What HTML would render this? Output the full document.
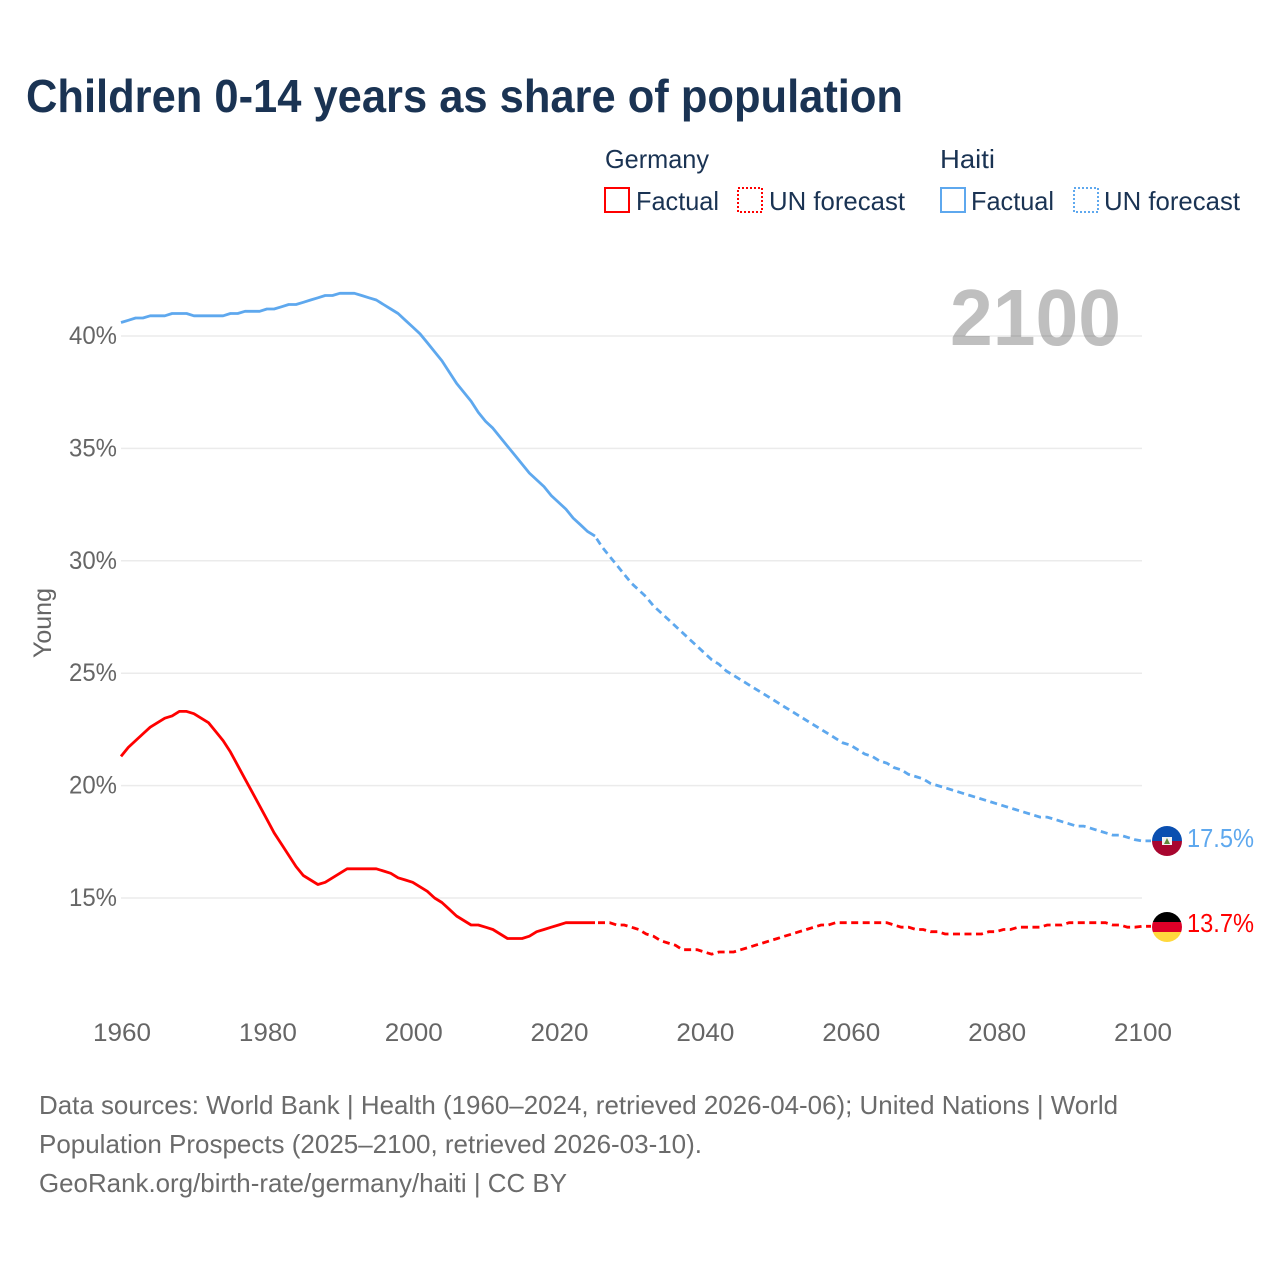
<!DOCTYPE html>
<html lang="en">
<head>
<meta charset="utf-8">
<title>Children 0-14 years as share of population</title>
<style>
html,body{margin:0;padding:0;background:#fff;width:1280px;height:1280px;overflow:hidden}
svg{display:block;font-family:"Liberation Sans",sans-serif}
</style>
</head>
<body>
<svg id="chart" xmlns="http://www.w3.org/2000/svg" width="1280" height="1280" viewBox="0 0 1280 1280">
  <defs>
    <clipPath id="clip-haiti"><circle cx="1167" cy="841" r="15"/></clipPath>
    <clipPath id="clip-germany"><circle cx="1167" cy="927" r="15"/></clipPath>
  </defs>
  <text x="26" y="112" font-size="46" font-weight="700" fill="#1a3353" textLength="877" lengthAdjust="spacingAndGlyphs">Children 0-14 years as share of population</text>

  <g font-size="26" fill="#1a3353">
    <text x="605" y="168" textLength="104" lengthAdjust="spacingAndGlyphs">Germany</text>
    <text x="940" y="168" textLength="55" lengthAdjust="spacingAndGlyphs">Haiti</text>
    <rect x="605" y="188" width="24" height="24" fill="none" stroke="#ff0000" stroke-width="2"/>
    <text x="636" y="210" textLength="83" lengthAdjust="spacingAndGlyphs">Factual</text>
    <rect x="738" y="188" width="24" height="24" fill="none" stroke="#ff0000" stroke-width="2" stroke-dasharray="2 2"/>
    <text x="769" y="210" textLength="136" lengthAdjust="spacingAndGlyphs">UN forecast</text>
    <rect x="941" y="188" width="24" height="24" fill="none" stroke="#5ea8ee" stroke-width="2"/>
    <text x="971" y="210" textLength="83" lengthAdjust="spacingAndGlyphs">Factual</text>
    <rect x="1074" y="188" width="24" height="24" fill="none" stroke="#5ea8ee" stroke-width="2" stroke-dasharray="2 2"/>
    <text x="1104" y="210" textLength="136" lengthAdjust="spacingAndGlyphs">UN forecast</text>
  </g>

  <g id="grid"></g>
  <g id="yticks"></g>
  <g id="xticks"></g>
  <text transform="translate(51,623) rotate(-90)" text-anchor="middle" font-size="25" fill="#666666" textLength="70" lengthAdjust="spacingAndGlyphs">Young</text>
  <text x="950" y="345" font-size="80" font-weight="700" fill="#000000" fill-opacity="0.25" textLength="171" lengthAdjust="spacingAndGlyphs">2100</text>
  <g id="series"></g>

  <g clip-path="url(#clip-haiti)">
    <rect x="1152" y="826" width="30" height="15" fill="#0a4fb0"/>
    <rect x="1152" y="841" width="30" height="15" fill="#a8062f"/>
    <rect x="1162" y="837" width="10" height="8" fill="#f2f2f2"/>
    <path d="M1167 838 L1170 844 L1164 844 Z" fill="#5e8a3a"/>
  </g>
  <g clip-path="url(#clip-germany)">
    <rect x="1152" y="912" width="30" height="10" fill="#000000"/>
    <rect x="1152" y="922" width="30" height="10.5" fill="#dd0028"/>
    <rect x="1152" y="932" width="30" height="10" fill="#ffd83d"/>
  </g>
  <text id="label-haiti" x="1187" y="847" font-size="25.5" fill="#5ea8ee" textLength="67" lengthAdjust="spacingAndGlyphs">17.5%</text>
  <text id="label-germany" x="1187" y="932" font-size="25.5" fill="#ff0000" textLength="67" lengthAdjust="spacingAndGlyphs">13.7%</text>

  <g font-size="26" fill="#6b6b6b">
    <text x="39" y="1114" textLength="1079" lengthAdjust="spacingAndGlyphs">Data sources: World Bank | Health (1960–2024, retrieved 2026-04-06); United Nations | World</text>
    <text x="39" y="1153" textLength="663" lengthAdjust="spacingAndGlyphs">Population Prospects (2025–2100, retrieved 2026-03-10).</text>
    <text x="39" y="1192" textLength="528" lengthAdjust="spacingAndGlyphs">GeoRank.org/birth-rate/germany/haiti | CC BY</text>
  </g>
</svg>
<script>
const xTickLabels = [1960, 1980, 2000, 2020, 2040, 2060, 2080, 2100];
const yTickLabels = [15, 20, 25, 30, 35, 40];
const startYear = 1960;
const lastFactualYear = 2025;
const germanyValues = [
21.3,21.7,22.0,22.3,22.6,22.8,23.0,23.1,23.3,23.3,
23.2,23.0,22.8,22.4,22.0,21.5,20.9,20.3,19.7,19.1,
18.5,17.9,17.4,16.9,16.4,16.0,15.8,15.6,15.7,15.9,
16.1,16.3,16.3,16.3,16.3,16.3,16.2,16.1,15.9,15.8,
15.7,15.5,15.3,15.0,14.8,14.5,14.2,14.0,13.8,13.8,
13.7,13.6,13.4,13.2,13.2,13.2,13.3,13.5,13.6,13.7,
13.8,13.9,13.9,13.9,13.9,13.9,13.9,13.9,13.8,13.8,
13.7,13.6,13.4,13.3,13.1,13.0,12.9,12.7,12.7,12.7,
12.6,12.5,12.6,12.6,12.6,12.7,12.8,12.9,13.0,13.1,
13.2,13.3,13.4,13.5,13.6,13.7,13.8,13.8,13.9,13.9,
13.9,13.9,13.9,13.9,13.9,13.9,13.8,13.7,13.7,13.6,
13.6,13.5,13.5,13.4,13.4,13.4,13.4,13.4,13.4,13.5,
13.5,13.6,13.6,13.7,13.7,13.7,13.7,13.8,13.8,13.8,
13.9,13.9,13.9,13.9,13.9,13.9,13.8,13.8,13.7,13.7,13.74
];
const haitiValues = [
40.6,40.7,40.8,40.8,40.9,40.9,40.9,41.0,41.0,41.0,
40.9,40.9,40.9,40.9,40.9,41.0,41.0,41.1,41.1,41.1,
41.2,41.2,41.3,41.4,41.4,41.5,41.6,41.7,41.8,41.8,
41.9,41.9,41.9,41.8,41.7,41.6,41.4,41.2,41.0,40.7,
40.4,40.1,39.7,39.3,38.9,38.4,37.9,37.5,37.1,36.6,
36.2,35.9,35.5,35.1,34.7,34.3,33.9,33.6,33.3,32.9,
32.6,32.3,31.9,31.6,31.3,31.1,30.6,30.2,29.8,29.4,
29.0,28.7,28.4,28.0,27.7,27.4,27.1,26.8,26.5,26.2,
25.9,25.6,25.4,25.1,24.9,24.7,24.5,24.3,24.1,23.9,
23.7,23.5,23.3,23.1,22.9,22.7,22.5,22.3,22.1,21.9,
21.8,21.6,21.4,21.3,21.1,21.0,20.8,20.7,20.5,20.4,
20.3,20.1,20.0,19.9,19.8,19.7,19.6,19.5,19.4,19.3,
19.2,19.1,19.0,18.9,18.8,18.7,18.6,18.6,18.5,18.4,
18.3,18.2,18.2,18.1,18.0,17.9,17.8,17.8,17.7,17.6,17.54
];

const SVG_NS = 'http://www.w3.org/2000/svg';
function xScale(year) { return 121 + (year - 1960) * (1021 / 140); }
function yScale(value) { return 898 - (value - 15) * 22.48; }
function pointsFor(values, fromYear, toYear) {
  const pts = [];
  values.forEach(function (v, i) {
    const yr = startYear + i;
    if (yr >= fromYear && yr <= toYear) pts.push(xScale(yr).toFixed(1) + ',' + yScale(v).toFixed(1));
  });
  return pts.join(' ');
}

const grid = document.getElementById('grid');
const yticks = document.getElementById('yticks');
yTickLabels.forEach(function (t) {
  const line = document.createElementNS(SVG_NS, 'line');
  
  
  line.setAttribute('x1', xScale(1960));
  line.setAttribute('x2', xScale(2100));
  line.setAttribute('y1', yScale(t));
  line.setAttribute('y2', yScale(t));
  line.setAttribute('stroke', '#ebebeb');
  line.setAttribute('stroke-width', '1.5');
  grid.appendChild(line);
  const label = document.createElementNS(SVG_NS, 'text');
  
  
  label.setAttribute('x', 117);
  label.setAttribute('y', yScale(t) + 8);
  label.setAttribute('text-anchor', 'end');
  label.setAttribute('font-size', '25');
  label.setAttribute('fill', '#666666');
  label.setAttribute('textLength', '48');
  label.setAttribute('lengthAdjust', 'spacingAndGlyphs');
  label.textContent = t + '%';
  yticks.appendChild(label);
});

const xticks = document.getElementById('xticks');
xTickLabels.forEach(function (t) {
  const label = document.createElementNS(SVG_NS, 'text');
  
  
  label.setAttribute('x', xScale(t) + 1);
  label.setAttribute('y', 1041);
  label.setAttribute('text-anchor', 'middle');
  label.setAttribute('font-size', '25');
  label.setAttribute('fill', '#666666');
  label.setAttribute('textLength', '58');
  label.setAttribute('lengthAdjust', 'spacingAndGlyphs');
  label.textContent = t;
  xticks.appendChild(label);
});

const series = document.getElementById('series');
function drawSeries(values, color, nameBase) {
  const solid = document.createElementNS(SVG_NS, 'polyline');
  
  
  solid.setAttribute('points', pointsFor(values, startYear, lastFactualYear));
  solid.setAttribute('fill', 'none');
  solid.setAttribute('stroke', color);
  solid.setAttribute('stroke-width', '2.8');
  solid.setAttribute('stroke-linejoin', 'round');
  series.appendChild(solid);
  const dashed = document.createElementNS(SVG_NS, 'polyline');
  
  
  const lastValue = values[values.length - 1];
  dashed.setAttribute('points', pointsFor(values, lastFactualYear, 2100) + ' ' + (xScale(2100) + 9).toFixed(1) + ',' + yScale(lastValue).toFixed(1));
  dashed.setAttribute('fill', 'none');
  dashed.setAttribute('stroke', color);
  dashed.setAttribute('stroke-width', '2.8');
  dashed.setAttribute('stroke-dasharray', '7 4.5');
  dashed.setAttribute('stroke-dashoffset', '8.5');
  series.appendChild(dashed);
}
drawSeries(germanyValues, '#ff0000', 'germany');
drawSeries(haitiValues, '#5ea8ee', 'haiti');
document.getElementById('label-haiti').textContent = haitiValues[haitiValues.length - 1].toFixed(1) + '%';
document.getElementById('label-germany').textContent = germanyValues[germanyValues.length - 1].toFixed(1) + '%';
</script>
</body>
</html>
